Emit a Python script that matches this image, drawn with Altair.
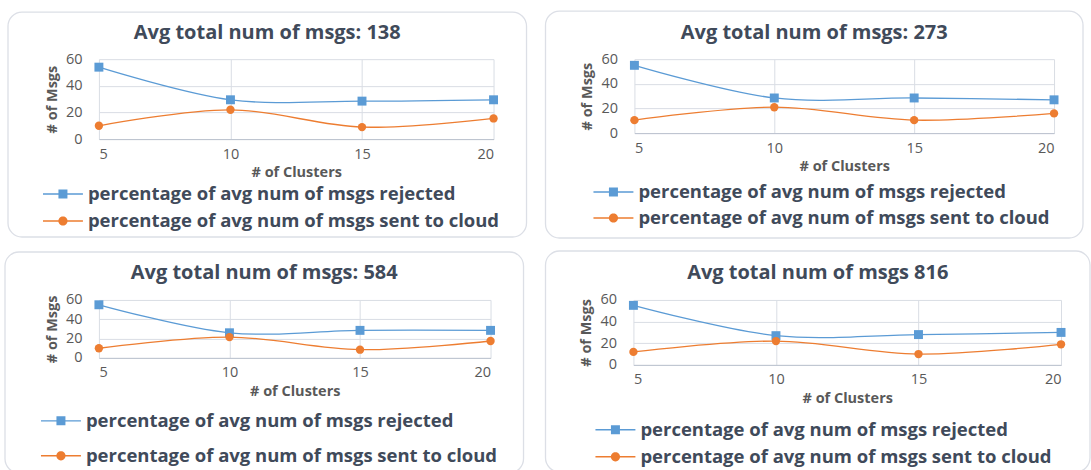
import math

import altair as alt
import pandas as pd

# ---- data -------------------------------------------------------------
clusters = [5, 10, 15, 20]
y_ticks = [0, 20, 40, 60]
series_names = [
    "percentage of avg  num of msgs rejected",
    "percentage of avg  num of msgs sent to cloud",
]
panel_titles = [
    "Avg total num of msgs: 138",
    "Avg total num of msgs: 273",
    "Avg total num of msgs: 584",
    "Avg total num of msgs 816",
]
rejected = [
    [54, 29.5, 28.5, 29.5],
    [55, 28.5, 28.5, 27],
    [55, 26, 28.5, 28.5],
    [55, 27, 28, 30],
]
sent_to_cloud = [
    [10, 22, 9, 15.5],
    [10.5, 21, 10.5, 16],
    [10, 21.5, 8.5, 17.5],
    [12, 22, 10, 19],
]

# ---- styling ----------------------------------------------------------
FONT = "Open Sans"
BLUE = "#5B9BD5"
ORANGE = "#ED7D31"
TEXT = "#404a5a"
TICK = "#595959"
GRID = "#d9dde4"
FRAME = "#dcdfe6"

# per-panel geometry: plot size, frame margins around the plot, legend spot
layout = [
    dict(w=395, h=80, l=91, r=33, t=47, b=98, lx=-56, ly=125, rp=7),
    dict(w=420, h=74, l=89, r=29, t=48, b=105, lx=-41, ly=123, rp=6),
    dict(w=392, h=58, l=94, r=33, t=48, b=115, lx=-58, ly=111, rp=15),
    dict(w=428, h=65, l=88, r=29, t=49, b=107, lx=-38, ly=120, rp=7),
]


def key_glyph(marker):
    """Legend glyph: a short line with the series marker in its middle."""
    bar = "M-1,-0.07H0.55V0.07H-1Z M1.45,-0.07H3V0.07H1.45Z"
    if marker == "square":
        m = "M0.55,-0.45H1.45V0.45H0.55Z"
    else:
        pts = [
            (1 + 0.46 * math.cos(2 * math.pi * k / 24), 0.46 * math.sin(2 * math.pi * k / 24))
            for k in range(24)
        ]
        m = "M" + "L".join(f"{x:.3f},{y:.3f}" for x, y in pts) + "Z"
    return bar + " " + m


def panel(i):
    g = layout[i]
    df = pd.DataFrame(
        {
            "clusters": clusters * 2,
            "msgs": rejected[i] + sent_to_cloud[i],
            "series": [series_names[0]] * 4 + [series_names[1]] * 4,
        }
    )
    color_scale = alt.Scale(domain=series_names, range=[BLUE, ORANGE])
    base = alt.Chart(df).encode(
        x=alt.X(
            "clusters:Q",
            scale=alt.Scale(domain=[5, 20], nice=False, zero=False),
            axis=alt.Axis(
                values=clusters,
                title="# of Clusters",
                labelPadding=8,
                titlePadding=5,
                domainColor="#bcc3cf",
            ),
        ),
        y=alt.Y(
            "msgs:Q",
            scale=alt.Scale(domain=[0, 60], nice=False),
            axis=alt.Axis(
                values=y_ticks,
                title="# of Msgs",
                labelPadding=17,
                titlePadding=6,
                domain=False,
            ),
        ),
    )
    legend = alt.Legend(
        orient="none",
        legendX=g["lx"],
        legendY=g["ly"],
        direction="vertical",
        title=None,
        symbolSize=400,
        symbolStrokeWidth=0,
        symbolOpacity=1,
        labelOffset=25,
        labelFont=FONT,
        labelFontSize=18.5,
        labelFontWeight="bold",
        labelColor=TEXT,
        labelLimit=700,
        rowPadding=g["rp"],
        padding=0,
    )
    key = base.mark_point(filled=True, opacity=0).encode(
        color=alt.Color("series:N", scale=color_scale, legend=legend),
        shape=alt.Shape(
            "series:N",
            scale=alt.Scale(domain=series_names, range=[key_glyph("square"), key_glyph("circle")]),
            legend=legend,
        ),
    )
    frame = (
        alt.Chart(pd.DataFrame({"k": [0]}))
        .mark_rect(cornerRadius=14, fill="transparent", stroke=FRAME, strokeWidth=1.3)
        .encode(
            x=alt.value(-g["l"]),
            x2=alt.value(g["w"] + g["r"]),
            y=alt.value(-g["t"]),
            y2=alt.value(g["h"] + g["b"]),
        )
    )
    line = base.mark_line(interpolate="catmull-rom", strokeWidth=1.3).encode(
        color=alt.Color("series:N", scale=color_scale)
    )
    squares = (
        base.transform_filter(alt.datum.series == series_names[0])
        .mark_square(size=80, opacity=1)
        .encode(color=alt.Color("series:N", scale=color_scale))
    )
    circles = (
        base.transform_filter(alt.datum.series == series_names[1])
        .mark_circle(size=70, opacity=1)
        .encode(color=alt.Color("series:N", scale=color_scale))
    )
    return alt.layer(key, frame, line, squares, circles).properties(
        width=g["w"],
        height=g["h"],
        title=alt.TitleParams(
            panel_titles[i],
            anchor="middle",
            frame="bounds",
            offset=16 - g["t"],
            font=FONT,
            fontSize=20,
            fontWeight="bold",
            color=TEXT,
        ),
    )


top = alt.hconcat(panel(0), panel(1), spacing=17).resolve_scale(
    color="independent", shape="independent"
).resolve_legend(color="independent", shape="independent")
bottom = alt.hconcat(panel(2), panel(3), spacing=20).resolve_scale(
    color="independent", shape="independent"
).resolve_legend(color="independent", shape="independent")

chart = (
    alt.vconcat(top, bottom, spacing=11)
    .resolve_scale(color="independent", shape="independent")
    .resolve_legend(color="independent", shape="independent")
    .properties(
        padding={"left": 4, "top": 10, "right": 0, "bottom": 0},
        background="white",
    )
    .configure_view(stroke=None)
    .configure_axis(
        labelFont=FONT,
        labelFontSize=14.5,
        labelColor=TICK,
        titleFont=FONT,
        titleFontSize=14.5,
        titleFontWeight="bold",
        titleColor=TICK,
        ticks=False,
        gridColor=GRID,
        gridWidth=1,
    )
)

chart.save("out.html", embed_options={"renderer": "svg", "actions": False})
